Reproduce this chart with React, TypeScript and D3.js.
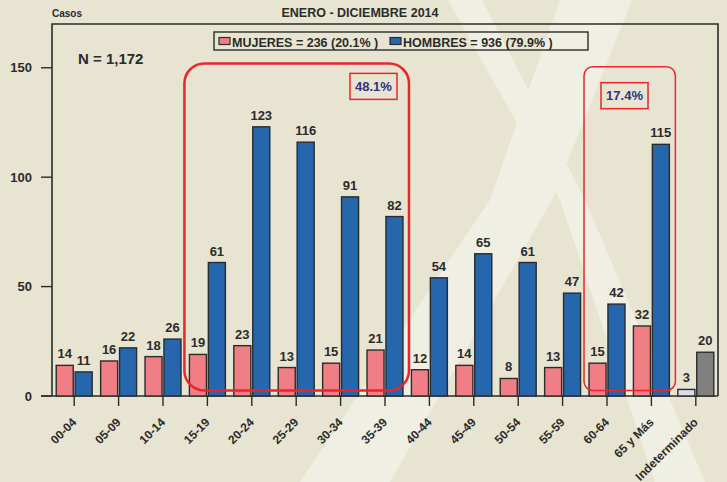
import * as d3 from "d3";

const categories = ["00-04", "05-09", "10-14", "15-19", "20-24", "25-29", "30-34", "35-39", "40-44", "45-49", "50-54", "55-59", "60-64", "65 y Más", "Indeterminado"];
const mujeres = [14, 16, 18, 19, 23, 13, 15, 21, 12, 14, 8, 13, 15, 32, 3];
const hombres = [11, 22, 26, 61, 123, 116, 91, 82, 54, 65, 61, 47, 42, 115, 20];
const yTicks = [0, 50, 100, 150];

// highlighted groups: [first category, last category, label]
const highlights = [
  { from: "15-19", to: "35-39", label: "48.1%", top: 152, r: 20, sw: 2.5 },
  { from: "60-64", to: "65 y Más", label: "17.4%", top: 150.5, r: 9, sw: 1.5 },
];

const W = 727;
const H = 482;
const left = 52, right = 718, top = 24, bottom = 396;

const PINK = "#ef7f85";
const BLUE = "#2566ad";
const INK = "#2b2b2b";
const RED = "#e8262c";
const FONT = "'Liberation Sans', Arial, sans-serif";

// decorative light stripes in the background
const stripes = [
  [[560, 0], [632, 0], [552, 200], [390, 482], [300, 482], [490, 200]],
  [[448, 0], [482, 0], [585, 200], [705, 482], [655, 482], [560, 200]],
];

export default function App() {
  const y = d3.scaleLinear().domain([0, 170]).range([bottom, top]);
  const x0 = d3.scaleBand().domain(categories).range([left, right]).paddingInner(0.19).paddingOuter(0.095);
  const x1 = d3.scaleBand().domain(["m", "h"]).range([0, x0.bandwidth()]).paddingInner(0.1);
  const bw = x1.bandwidth();

  const last = categories.length - 1;
  const colorM = (i: number) => (i === last ? "#dcdce6" : PINK);
  const colorH = (i: number) => (i === last ? "#808080" : BLUE);

  return (
    <svg width={W} height={H} style={{ position: "absolute", left: 0, top: 0, fontFamily: FONT }}>
      <rect width={W} height={H} fill="#e7e5d2" />
      {stripes.map((p, i) => (
        <polygon key={i} points={p.map((d) => d.join(",")).join(" ")} fill="#f0efe3" />
      ))}

      {/* frame */}
      <path d={`M${left},${bottom} V${top} H${right} V${bottom}`} fill="none" stroke={INK} strokeWidth={1.6} />
      <line x1={left - 11} x2={right} y1={bottom} y2={bottom} stroke={INK} strokeWidth={1.6} />

      {/* y axis */}
      {yTicks.map((t) => (
        <g key={t}>
          <line x1={left - 11} x2={left} y1={y(t)} y2={y(t)} stroke={INK} strokeWidth={1.4} />
          <text x={32} y={y(t)} dy="0.35em" textAnchor="end" fontSize={13} fontWeight="bold" fill={INK}>{t}</text>
        </g>
      ))}

      {/* bars */}
      {categories.map((c, i) => {
        const gx = x0(c)!;
        const xm = gx + x1("m")!;
        const xh = gx + x1("h")!;
        return (
          <g key={c}>
            <rect x={xm} y={y(mujeres[i])} width={bw} height={bottom - y(mujeres[i])} fill={colorM(i)} stroke={INK} strokeWidth={1.4} />
            <rect x={xh} y={y(hombres[i])} width={bw} height={bottom - y(hombres[i])} fill={colorH(i)} stroke={INK} strokeWidth={1.4} />
            <text x={xm + bw / 2} y={y(mujeres[i]) - 7} textAnchor="middle" fontSize={13} fontWeight="bold" fill={INK}>{mujeres[i]}</text>
            <text x={xh + bw / 2} y={y(hombres[i]) - 7} textAnchor="middle" fontSize={13} fontWeight="bold" fill={INK}>{hombres[i]}</text>
          </g>
        );
      })}

      {/* x axis ticks and labels */}
      {categories.map((c) => {
        const cx = x0(c)! + x0.bandwidth() / 2;
        return (
          <g key={c}>
            <line x1={cx} x2={cx} y1={bottom} y2={bottom + 10} stroke={INK} strokeWidth={1.4} />
            <text transform={`translate(${cx + 3},${bottom + 27}) rotate(-45)`} textAnchor="end" fontSize={12} fontWeight="bold" fill={INK}>{c}</text>
          </g>
        );
      })}

      {/* highlight boxes */}
      {highlights.map((h) => {
        const x = x0(h.from)! + x1("m")! - 5;
        const x2 = x0(h.to)! + x1("h")! + bw + 6;
        const yt = y(h.top);
        const yb = y(2.5);
        const bx = h.r > 10 ? x2 - 59 : x + 17;
        const by = h.r > 10 ? yt + 10 : yt + 16;
        return (
          <g key={h.label}>
            <rect x={x} y={yt} width={x2 - x} height={yb - yt} rx={h.r} fill="none" stroke={RED} strokeWidth={h.sw} />
            <rect x={bx} y={by} width={47} height={26} fill="none" stroke={RED} strokeWidth={1.5} />
            <text x={bx + 23.5} y={by + 13} dy="0.35em" textAnchor="middle" fontSize={13} fontWeight="bold" fill="#2e3380">{h.label}</text>
          </g>
        );
      })}

      {/* titles */}
      <text x={52} y={17} fontSize={10} fontWeight="bold" fill={INK}>Casos</text>
      <text x={360} y={17} textAnchor="middle" fontSize={12.5} fontWeight="bold" fill={INK}>ENERO - DICIEMBRE 2014</text>
      <text x={78} y={64} fontSize={15} fontWeight="bold" fill={INK}>N = 1,172</text>

      {/* legend */}
      <rect x={214} y={32} width={374} height={18} fill="none" stroke={INK} strokeWidth={1.4} />
      <rect x={219} y={37.5} width={11} height={7} fill={PINK} stroke={INK} strokeWidth={1.2} />
      <text x={232} y={46.5} fontSize={12.5} fontWeight="bold" fill={INK}>{`MUJERES = ${d3.sum(mujeres)} (20.1% )`}</text>
      <rect x={390} y={37.5} width={11} height={7} fill={BLUE} stroke={INK} strokeWidth={1.2} />
      <text x={403} y={46.5} fontSize={12.5} fontWeight="bold" fill={INK}>{`HOMBRES = ${d3.sum(hombres)} (79.9% )`}</text>
    </svg>
  );
}
